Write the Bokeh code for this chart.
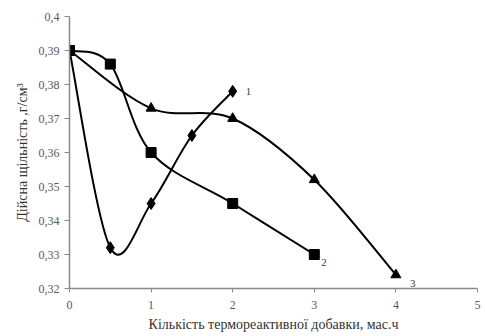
from bokeh.plotting import figure
from bokeh.models import Range1d, FixedTicker, ColumnDataSource
from bokeh.core.properties import value
from bokeh.embed import file_html
from bokeh.resources import INLINE

# Data
x1 = [0, 0.5, 1, 1.5, 2]
y1 = [0.39, 0.332, 0.345, 0.365, 0.378]
x2 = [0, 0.5, 1, 2, 3]
y2 = [0.39, 0.386, 0.36, 0.345, 0.33]
x3 = [0, 1, 2, 3, 4]
y3 = [0.39, 0.373, 0.37, 0.352, 0.324]
series_names = ["1", "2", "3"]
y_ticks = [0.32, 0.33, 0.34, 0.35, 0.36, 0.37, 0.38, 0.39, 0.40]
y_tick_labels = ["0,32", "0,33", "0,34", "0,35", "0,36", "0,37", "0,38", "0,39", "0,4"]
x_ticks = [0, 1, 2, 3, 4, 5]

FONT = "Liberation Serif"

p = figure(width=485, height=336, output_backend="svg", toolbar_location=None,
           x_range=Range1d(0, 5), y_range=Range1d(0.32, 0.40),
           min_border_left=69, min_border_right=8, min_border_top=16, min_border_bottom=48)
p.outline_line_color = None
p.xgrid.visible = False
p.ygrid.visible = False
p.background_fill_color = "white"

def smooth_segments(xs, ys):
    n = len(xs)
    P = list(zip(xs, ys))
    out = dict(x0=[], y0=[], x1=[], y1=[], cx0=[], cy0=[], cx1=[], cy1=[])
    for i in range(n - 1):
        p0 = P[i - 1] if i > 0 else P[i]
        p1 = P[i]
        p2 = P[i + 1]
        p3 = P[i + 2] if i + 2 < n else P[i + 1]
        c1 = (p1[0] + (p2[0] - p0[0]) / 6, p1[1] + (p2[1] - p0[1]) / 6)
        c2 = (p2[0] - (p3[0] - p1[0]) / 6, p2[1] - (p3[1] - p1[1]) / 6)
        out["x0"].append(p1[0]); out["y0"].append(p1[1])
        out["x1"].append(p2[0]); out["y1"].append(p2[1])
        out["cx0"].append(c1[0]); out["cy0"].append(c1[1])
        out["cx1"].append(c2[0]); out["cy1"].append(c2[1])
    return ColumnDataSource(out)

for xs, ys in [(x1, y1), (x2, y2), (x3, y3)]:
    p.bezier(x0="x0", y0="y0", x1="x1", y1="y1", cx0="cx0", cy0="cy0",
             cx1="cx1", cy1="cy1", source=smooth_segments(xs, ys),
             line_color="black", line_width=2)

p.scatter(x1, y1, marker="diamond", size=12, color="black")
p.scatter(x2, y2, marker="square", size=10, color="black")
p.scatter(x3, y3, marker="triangle", size=10, color="black")

# series labels
p.text([x1[-1]], [y1[-1]], text=[series_names[0]], x_offset=13, y_offset=0,
       text_font=value(FONT), text_font_size="11px", text_color="#404040",
       text_baseline="middle", text_align="left")
p.text([x2[-1]], [y2[-1]], text=[series_names[1]], x_offset=7, y_offset=8,
       text_font=value(FONT), text_font_size="11px", text_color="#404040",
       text_baseline="middle", text_align="left")
p.text([x3[-1]], [y3[-1]], text=[series_names[2]], x_offset=14, y_offset=9,
       text_font=value(FONT), text_font_size="11px", text_color="#404040",
       text_baseline="middle", text_align="left")

for ax in (p.xaxis, p.yaxis):
    ax.axis_line_color = "#8a8a8a"
    ax.axis_line_width = 1.5
    ax.major_tick_line_color = "#8a8a8a"
    ax.minor_tick_line_color = None
    ax.major_label_text_font = FONT
    ax.major_label_text_font_size = "12px"
    ax.major_label_text_color = "#595959"
    ax.axis_label_text_font = FONT
    ax.axis_label_text_font_size = "14px"
    ax.axis_label_text_font_style = "normal"
    ax.axis_label_text_color = "#333333"

p.xaxis.ticker = FixedTicker(ticks=x_ticks)
p.xaxis.major_tick_in = 0
p.xaxis.major_tick_out = 4
p.xaxis.axis_label = "Кількість термореактивної добавки, мас.ч"
p.xaxis.axis_label_standoff = 5
p.xaxis.major_label_standoff = 8

p.yaxis.ticker = FixedTicker(ticks=y_ticks)
p.yaxis.major_label_overrides = {t: l for t, l in zip(y_ticks, y_tick_labels)}
p.yaxis.major_tick_in = 0
p.yaxis.major_tick_out = 5
p.yaxis.major_label_standoff = 5
p.yaxis.axis_label = "Дійсна щільність ,г/см³"
p.yaxis.axis_label_standoff = 6

open("out.html", "w").write(file_html(p, INLINE))
